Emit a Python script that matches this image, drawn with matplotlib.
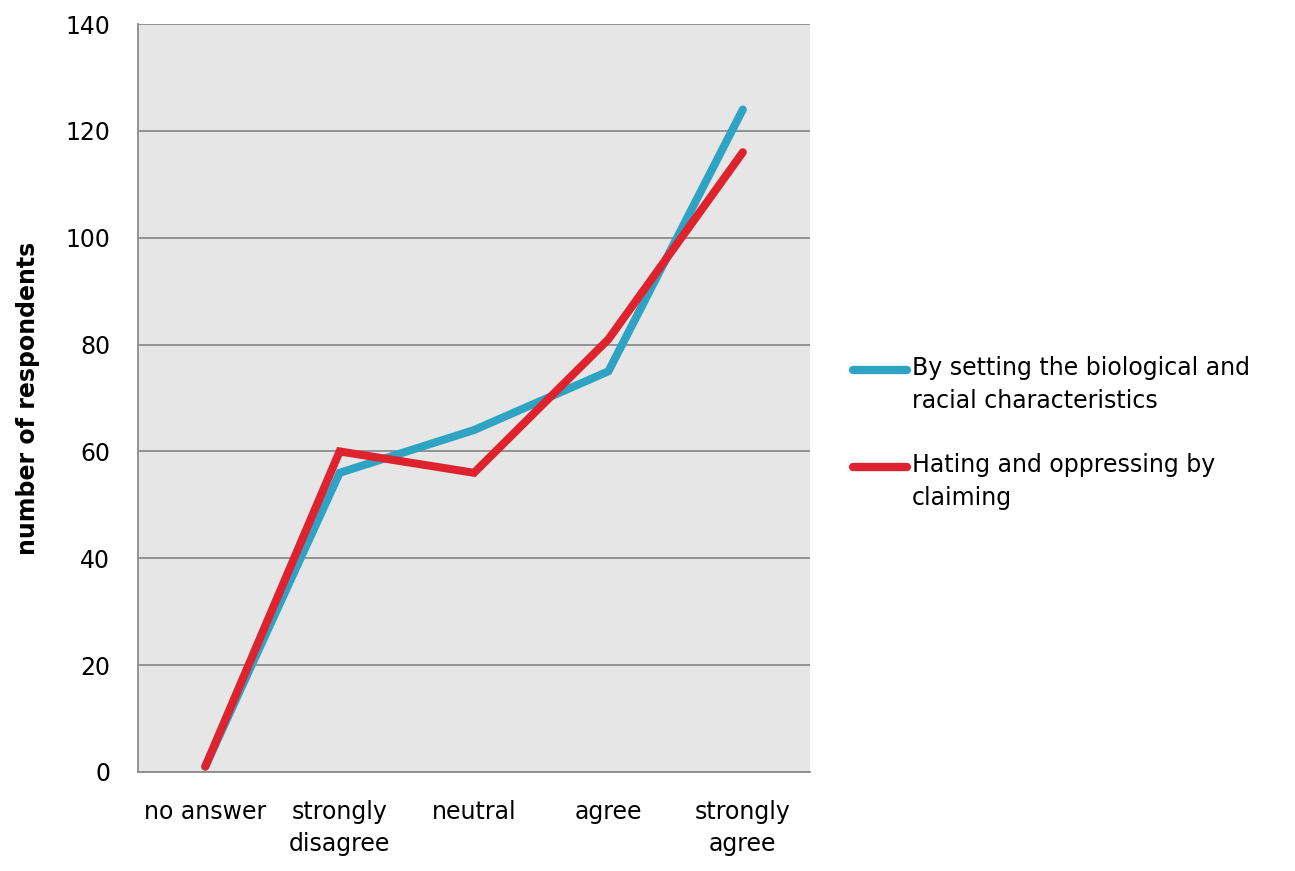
import matplotlib
matplotlib.use("Agg")
import matplotlib.pyplot as plt
from matplotlib.lines import Line2D

categories = ["no answer", "strongly\ndisagree", "neutral", "agree", "strongly\nagree"]
series_blue = [1, 56, 64, 75, 124]
series_red = [1, 60, 56, 81, 116]
label_blue = "By setting the biological and\nracial characteristics"
label_red = "Hating and oppressing by\nclaiming"
yticks = [0, 20, 40, 60, 80, 100, 120, 140]

BLUE = "#2ea3c3"
RED = "#de222e"

plt.rcParams['font.family'] = ['DejaVu Sans']

fig = plt.figure(figsize=(12.95, 8.71), dpi=100)
ax = fig.add_axes([0.1066, 0.1137, 0.5189, 0.8587])
ax.set_facecolor("#e6e6e6")

x = list(range(len(categories)))
ax.plot(x, series_blue, color=BLUE, lw=5.8, solid_capstyle="round", solid_joinstyle="miter", zorder=3)
ax.plot(x, series_red, color=RED, lw=5.8, solid_capstyle="round", solid_joinstyle="miter", zorder=4)

ax.set_xlim(-0.5, 4.5)
ax.set_ylim(0, 140)
ax.set_yticks(yticks)
ax.set_yticklabels([str(v) for v in yticks])
ax.set_xticks(x)
ax.set_xticklabels(categories, linespacing=1.45)
ax.yaxis.grid(True, color="#8c8c8c", lw=1.3)
ax.set_axisbelow(True)
for s in ["right", "top"]:
    ax.spines[s].set_visible(False)
for s in ["left", "bottom"]:
    ax.spines[s].set_color("#8c8c8c")
    ax.spines[s].set_linewidth(1.3)
ax.tick_params(axis="both", length=0, labelsize=17, colors="black")
ax.tick_params(axis="y", pad=20)
ax.tick_params(axis="x", pad=20)
ax.set_ylabel("number of respondents", fontsize=17, fontweight="bold")
ax.yaxis.set_label_coords(-0.146, 0.5)

# legend drawn manually
W, H = 1295, 871
entries = [(BLUE, label_blue, 370), (RED, label_red, 467)]
for col, lab, ypix in entries:
    yf = 1 - ypix / H
    fig.add_artist(Line2D([853 / W, 907 / W], [yf, yf], color=col, lw=6,
                          solid_capstyle="round", transform=fig.transFigure))
    fig.text(912 / W, 1 - (ypix - 14) / H, lab, fontsize=17, va="top", ha="left",
             linespacing=1.45)

fig.savefig("out.png", dpi=100)
